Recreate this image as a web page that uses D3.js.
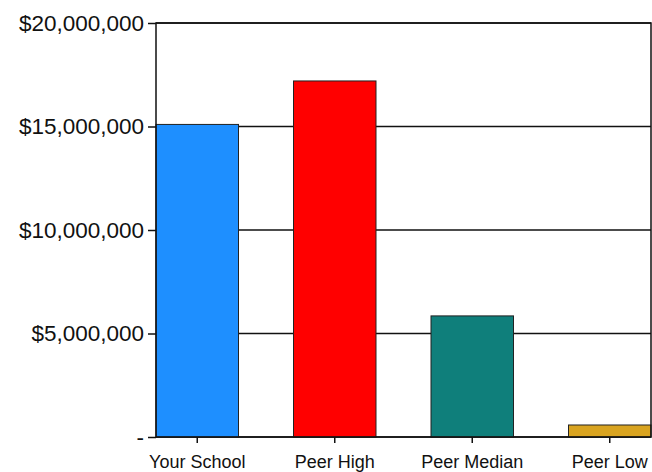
<!DOCTYPE html>
<html>
<head>
<style>
body { margin: 0; background: #fff; }
svg { display: block; }
.tick text { font-family: "Liberation Sans", Arial, sans-serif; fill: #111; }
</style>
</head>
<body>
<svg id="chart"></svg>
<script src="https://cdnjs.cloudflare.com/ajax/libs/d3/7.8.5/d3.min.js"></script>
<script>
var categories = ["Your School", "Peer High", "Peer Median", "Peer Low"]
var values = [15100000, 17200000, 5850000, 580000]
var colors = ["#1e8fff", "#ff0000", "#0f7f7b", "#d9a420"]
var yTicks = [0, 5000000, 10000000, 15000000, 20000000]

var W = 652, H = 472
var margin = {top: 23, right: 1, bottom: 35, left: 156}
var width = W - margin.left - margin.right,
    height = H - margin.top - margin.bottom

var svg = d3.select("#chart").attr("width", W).attr("height", H)
var g = svg.append("g").attr("transform", "translate(" + margin.left + "," + margin.top + ")")

var x = d3.scaleBand().domain(categories).range([0, width]).paddingInner(0.4).paddingOuter(0)
var y = d3.scaleLinear().domain([0, 20000000]).range([height, 0])

var fmt = function(d) { return d === 0 ? "-" : "$" + d3.format(",")(d) }

// grid lines
g.selectAll(".grid").data(yTicks).enter().append("line")
  .attr("x1", 0).attr("x2", width)
  .attr("y1", d => y(d)).attr("y2", d => y(d))
  .attr("stroke", "#111").attr("stroke-width", 1.5)

// bars
g.selectAll(".bar").data(values).enter().append("rect")
  .attr("x", (d, i) => x(categories[i]))
  .attr("y", d => y(d))
  .attr("width", x.bandwidth())
  .attr("height", d => height - y(d))
  .attr("fill", (d, i) => colors[i])
  .attr("stroke", "#222").attr("stroke-width", 1)

// frame
g.append("rect").attr("width", width).attr("height", height)
  .attr("fill", "none").attr("stroke", "#111").attr("stroke-width", 1.5)

var yAxis = g.append("g").call(d3.axisLeft(y).tickValues(yTicks).tickFormat(fmt).tickSize(8).tickPadding(4))
yAxis.select(".domain").remove()
yAxis.selectAll(".tick line").attr("stroke", "#111").attr("stroke-width", 1.5)
yAxis.selectAll("text").style("font-size", "22.5px")

var xAxis = g.append("g").attr("transform", "translate(0," + height + ")")
  .call(d3.axisBottom(x).tickSize(6).tickPadding(12))
xAxis.select(".domain").remove()
xAxis.selectAll(".tick line").attr("stroke", "#111").attr("stroke-width", 1.5)
xAxis.selectAll("text").style("font-size", "18px")
</script>
</body>
</html>
